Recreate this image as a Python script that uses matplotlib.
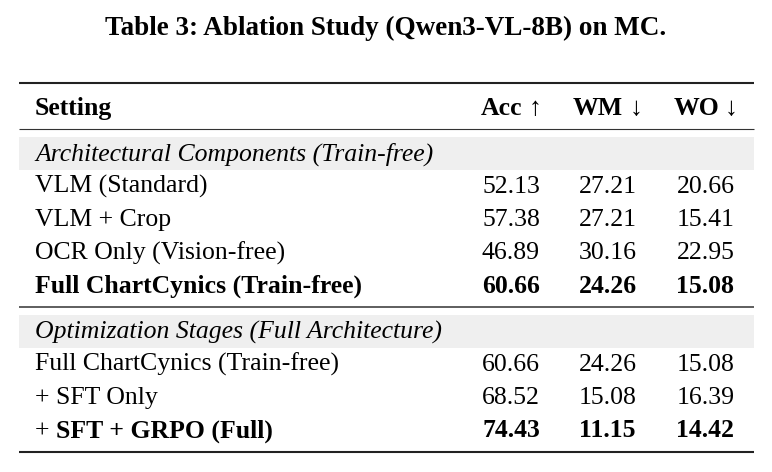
import matplotlib
matplotlib.use("Agg")
import matplotlib.pyplot as plt
from matplotlib.patches import Rectangle

# table content
title = "Table 3: Ablation Study (Qwen3-VL-8B) on MC."
columns = ["Acc", "WM", "WO"]
arrows = ["\u2191", "\u2193", "\u2193"]

group1 = "Architectural Components (Train-free)"
settings1 = ["VLM (Standard)", "VLM + Crop", "OCR Only (Vision-free)", "Full ChartCynics (Train-free)"]
acc1 = ["52.13", "57.38", "46.89", "60.66"]
wm1 = ["27.21", "27.21", "30.16", "24.26"]
wo1 = ["20.66", "15.41", "22.95", "15.08"]
bold1 = [False, False, False, True]

group2 = "Optimization Stages (Full Architecture)"
settings2 = ["Full ChartCynics (Train-free)", "+ SFT Only", "SFT + GRPO (Full)"]
acc2 = ["60.66", "68.52", "74.43"]
wm2 = ["24.26", "15.08", "11.15"]
wo2 = ["15.08", "16.39", "14.42"]
bold2 = [False, False, True]

FONT = "Liberation Serif"
FS = 18.5
W, H = 772, 472

fig = plt.figure(figsize=(W / 100, H / 100), dpi=100)
ax = fig.add_axes([0, 0, 1, 1])
ax.set_xlim(0, W)
ax.set_ylim(H, 0)
ax.axis("off")
fig.canvas.draw()
renderer = fig.canvas.get_renderer()


def width_of(t):
    return t.get_window_extent(renderer).width


x_left, x_right = 19, 754
x_text = 35
col_center = [511, 607.5, 705.5]

ax.text(386, 35, title, ha="center", va="baseline", fontsize=19.5,
        fontweight="bold", family=FONT)

# rules
ax.plot([x_left, x_right], [82.5, 82.5], color="#222222", lw=1.5, solid_capstyle="butt")
ax.plot([x_left, x_right], [128.5, 128.5], color="#333333", lw=0.8, solid_capstyle="butt")
ax.plot([x_left, x_right], [306.5, 306.5], color="#333333", lw=1.1, solid_capstyle="butt")
ax.plot([x_left, x_right], [451.5, 451.5], color="#222222", lw=1.5, solid_capstyle="butt")

# header
y_head = 115
ax.text(x_text, y_head, "Setting", ha="left", va="baseline", fontsize=FS,
        fontweight="bold", family=FONT)
for c, a, xc in zip(columns, arrows, col_center):
    tw = ax.text(0, y_head, c, ha="left", va="baseline", fontsize=FS,
                 fontweight="bold", family=FONT)
    ta = ax.text(0, y_head, a, ha="left", va="baseline", fontsize=FS, family=FONT)
    gap = 6
    total = width_of(tw) + gap + width_of(ta)
    x0 = xc - total / 2
    tw.set_x(x0)
    ta.set_x(x0 + width_of(tw) + gap)


def draw_group(band_top, name, settings, acc, wm, wo, bold, prefix_plus=False):
    ax.add_patch(Rectangle((x_left, band_top), x_right - x_left, 33,
                           facecolor="#efefef", edgecolor="none"))
    ax.text(x_text, band_top + 24, name, ha="left", va="baseline", fontsize=FS,
            style="italic", family=FONT)
    y = band_top + 56
    for i, s in enumerate(settings):
        w = "bold" if bold[i] else "normal"
        if prefix_plus and bold[i]:
            t = ax.text(x_text, y, "+", ha="left", va="baseline", fontsize=FS, family=FONT)
            ax.text(x_text + width_of(t) + 6, y, s, ha="left", va="baseline", fontsize=FS,
                    fontweight=w, family=FONT)
        else:
            ax.text(x_text, y, s, ha="left", va="baseline", fontsize=FS,
                    fontweight=w, family=FONT)
        for vals, xc in zip((acc, wm, wo), col_center):
            ax.text(xc, y, vals[i], ha="center", va="baseline", fontsize=FS,
                    fontweight=w, family=FONT)
        y += 33.2


draw_group(137, group1, settings1, acc1, wm1, wo1, bold1)
draw_group(315, group2, settings2, acc2, wm2, wo2, bold2, prefix_plus=True)

fig.savefig("out.png", dpi=100, facecolor="white")
